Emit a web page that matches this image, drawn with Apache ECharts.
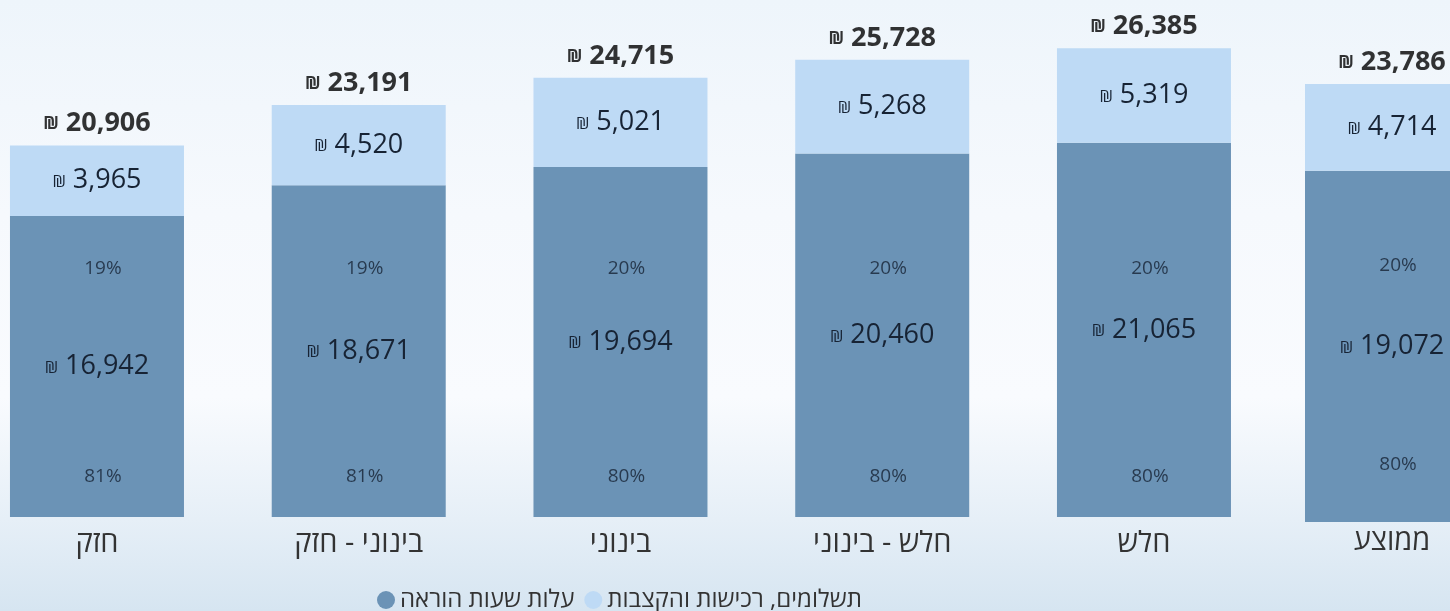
<!DOCTYPE html>
<html>
<head>
<meta charset="utf-8">
<script src="https://cdn.jsdelivr.net/npm/echarts@6/dist/echarts.min.js"></script>
<style>
html,body{margin:0;padding:0;width:1450px;height:611px;overflow:hidden;}
body{background:linear-gradient(180deg,#eef5fb 0%,#f6f9fd 35%,#f9fbfe 65%,#e6eff7 85%,#d6e5f1 100%);}
#chart{width:1450px;height:611px;}
</style>
</head>
<body>
<div id="chart"></div>
<script>
// ---- data ----
const categories = ['חזק', 'בינוני - חזק', 'בינוני', 'חלש - בינוני', 'חלש', 'ממוצע'];
const seriesNames = ['עלות שעות הוראה', 'תשלומים, רכישות והקצבות'];
const teachingCost = [16942, 18671, 19694, 20460, 21065, 19072];
const paymentsCost = [3965, 4520, 5021, 5268, 5319, 4714];
const totals = [20906, 23191, 24715, 25728, 26385, 23786];
const pctPayments = [19, 19, 20, 20, 20, 20];
const pctTeaching = [81, 81, 80, 80, 80, 80];

// ---- layout / style ----
const FONT = '"Open Sans", "Noto Sans", "DejaVu Sans", sans-serif';
const DARK = '#6b93b6';
const LIGHT = '#bedaf5';
const TXT = '#172334';
const splitAt = 5; // first five in main panel, average in separate panel
const pctAnchors = [{top: 14000, bottom: 2300}, {top: 13900, bottom: 3100}];

const fmtNum = v => v.toLocaleString('en-US');
const shekelRich = {
  s: {fontSize: 17, color: TXT, fontFamily: FONT, padding: [3, 7, 0, 0]},
  v: {fontSize: 27, color: TXT, fontFamily: FONT},
  sb: {fontSize: 17, color: '#000', fontFamily: FONT, fontWeight: 'bold', padding: [2, 7, 0, 0]},
  vb: {fontSize: 27, color: '#000', fontFamily: FONT, fontWeight: 'bold'}
};

function panelSeries(gi, from, to) {
  const idx = [];
  for (let i = from; i < to; i++) idx.push(i);
  const base = {xAxisIndex: gi, yAxisIndex: gi};
  const pctLabel = {show: true, position: 'inside', fontSize: 19, color: TXT, fontFamily: FONT, offset: [6, 0]};
  return [
    Object.assign({
      name: seriesNames[0], type: 'bar', stack: 's' + gi, barWidth: 174,
      data: idx.map(i => teachingCost[i]),
      itemStyle: {color: DARK},
      label: {show: true, position: 'inside', rich: shekelRich,
        formatter: p => '{s|₪}{v|' + fmtNum(p.value) + '}'}
    }, base),
    Object.assign({
      name: seriesNames[1], type: 'bar', stack: 's' + gi, barWidth: 174,
      data: idx.map(i => paymentsCost[i]),
      itemStyle: {color: LIGHT},
      label: {show: true, position: 'inside', rich: shekelRich,
        formatter: p => '{s|₪}{v|' + fmtNum(p.value) + '}'}
    }, base),
    Object.assign({
      type: 'scatter', symbolSize: 1, itemStyle: {color: 'rgba(0,0,0,0)'}, silent: true,
      data: idx.map((i, k) => [k, totals[i]]),
      label: {show: true, position: 'top', distance: 8, rich: shekelRich,
        formatter: p => '{sb|₪}{vb|' + fmtNum(totals[idx[p.dataIndex]]) + '}'},
      z: 5
    }, base),
    Object.assign({
      type: 'scatter', symbolSize: 1, itemStyle: {color: 'rgba(0,0,0,0)'}, silent: true,
      data: idx.map((i, k) => [k, pctAnchors[gi].top]),
      label: Object.assign({}, pctLabel, {formatter: p => pctPayments[idx[p.dataIndex]] + '%'}),
      z: 5
    }, base),
    Object.assign({
      type: 'scatter', symbolSize: 1, itemStyle: {color: 'rgba(0,0,0,0)'}, silent: true,
      data: idx.map((i, k) => [k, pctAnchors[gi].bottom]),
      label: Object.assign({}, pctLabel, {formatter: p => pctTeaching[idx[p.dataIndex]] + '%'}),
      z: 5
    }, base)
  ];
}

const chart = echarts.init(document.getElementById('chart'), null, {renderer: 'canvas'});
const xAxisBase = {
  type: 'category', axisLine: {show: false}, axisTick: {show: false},
  axisLabel: {fontSize: 29, color: '#333333', fontFamily: FONT, margin: 12}
};
chart.setOption({
  backgroundColor: 'transparent',
  animation: false,
  grid: [
    {left: -33.9, width: 1308.75, top: 1.67, bottom: 94, outerBoundsMode: 'none', containLabel: false},
    {left: 1262, width: 260, top: 6.5, bottom: 89, outerBoundsMode: 'none', containLabel: false}
  ],
  xAxis: [
    Object.assign({}, xAxisBase, {gridIndex: 0, data: categories.slice(0, splitAt)}),
    Object.assign({}, xAxisBase, {gridIndex: 1, data: categories.slice(splitAt),
      axisLabel: Object.assign({}, xAxisBase.axisLabel, {margin: 5})})
  ],
  yAxis: [
    {type: 'value', gridIndex: 0, min: 0, max: 29000, show: false},
    {type: 'value', gridIndex: 1, min: 0, max: 28000, show: false}
  ],
  legend: {
    data: seriesNames, left: 372, top: 583, icon: 'circle', itemWidth: 18, itemHeight: 18,
    itemGap: 10, textStyle: {fontSize: 24, color: '#333333', fontFamily: FONT}
  },
  series: panelSeries(0, 0, splitAt).concat(panelSeries(1, splitAt, categories.length))
});
</script>
</body>
</html>
